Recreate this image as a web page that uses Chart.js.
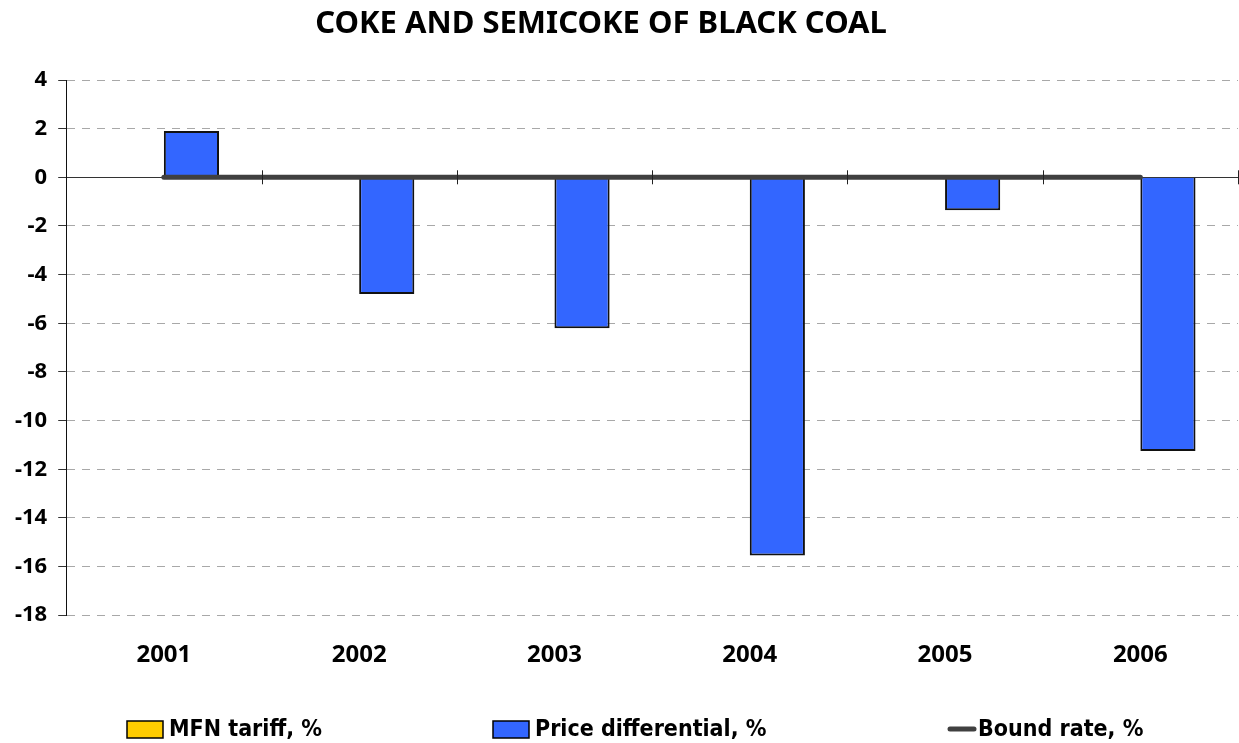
<!DOCTYPE html>
<html>
<head>
<meta charset="utf-8">
<script src="https://cdn.jsdelivr.net/npm/chart.js@4"></script>
<style>
  html, body { margin: 0; padding: 0; background: #fff; }
  #wrap { width: 1239px; height: 743px; }
</style>
</head>
<body>
<div id="wrap"><canvas id="coalChart" width="1239" height="743"></canvas></div>
<script>
// data
const years = ['2001', '2002', '2003', '2004', '2005', '2006'];
const mfnTariff = [0, 0, 0, 0, 0, 0];
const priceDiff = [1.9, -4.8, -6.2, -15.55, -1.35, -11.25];
const boundRate = [0, 0, 0, 0, 0, 0];
const yTicks = [4, 2, 0, -2, -4, -6, -8, -10, -12, -14, -16, -18];
const chartTitle = 'COKE AND SEMICOKE OF BLACK COAL';

const mainFont = "'Noto Sans', 'Open Sans', sans-serif";
const narrowFont = "'Liberation Sans Narrow', 'DejaVu Sans Condensed', sans-serif";

// title sits a bit left of the canvas centre in the original
const topTitle = {
    id: 'topTitle',
    afterDraw(chart) {
        const ctx = chart.ctx;
        ctx.save();
        ctx.font = 'bold 31px ' + mainFont;
        ctx.fillStyle = '#000';
        ctx.textAlign = 'center';
        ctx.textBaseline = 'middle';
        ctx.fillText(chartTitle, 601, 24);
        ctx.restore();
    }
};

// legend laid out like the original: three items spread across the bottom
const bottomLegend = {
    id: 'bottomLegend',
    afterDraw(chart) {
        const ctx = chart.ctx;
        const starts = [127, 493, 947];
        const order = ['MFN tariff, %', 'Price differential, %', 'Bound rate, %'];
        const y = 729;
        ctx.save();
        ctx.font = 'bold 23px ' + narrowFont;
        ctx.textBaseline = 'middle';
        order.forEach((name, i) => {
            const ds = chart.data.datasets.find(d => d.label === name);
            const x = starts[i];
            if (ds.type === 'line') {
                ctx.strokeStyle = ds.borderColor;
                ctx.lineWidth = 5;
                ctx.lineCap = 'round';
                ctx.beginPath();
                ctx.moveTo(x + 3, y);
                ctx.lineTo(x + 27, y);
                ctx.stroke();
                ctx.fillStyle = '#000';
                ctx.fillText(name, x + 31, y + 1);
            } else {
                ctx.fillStyle = ds.backgroundColor;
                ctx.fillRect(x, y - 8, 36, 17);
                ctx.strokeStyle = '#000';
                ctx.lineWidth = 1.5;
                ctx.strokeRect(x, y - 8, 36, 17);
                ctx.fillStyle = '#000';
                ctx.fillText(name, x + 42, y + 1);
            }
        });
        ctx.restore();
    }
};

// small category tick marks crossing the zero line
const zeroTicks = {
    id: 'zeroTicks',
    afterDraw(chart) {
        const xs = chart.scales.x, ys = chart.scales.y;
        const y0 = ys.getPixelForValue(0);
        const half = (xs.getPixelForValue(1) - xs.getPixelForValue(0)) / 2;
        const ctx = chart.ctx;
        ctx.save();
        ctx.strokeStyle = '#222';
        ctx.lineWidth = 1;
        for (let i = 0; i < years.length; i++) {
            const x = Math.round(xs.getPixelForValue(i) + half) + 0.5;
            ctx.beginPath();
            ctx.moveTo(x, y0 - 7);
            ctx.lineTo(x, y0 + 7);
            ctx.stroke();
        }
        ctx.restore();
    }
};

const ctx = document.getElementById('coalChart').getContext('2d');
new Chart(ctx, {
    data: {
        labels: years,
        datasets: [
            {
                type: 'line',
                label: 'Bound rate, %',
                data: boundRate,
                borderColor: '#404040',
                borderWidth: 5,
                pointRadius: 0,
                borderCapStyle: 'round',
                order: 0
            },
            {
                type: 'bar',
                label: 'MFN tariff, %',
                data: mfnTariff,
                backgroundColor: '#FFCC00',
                borderColor: '#000',
                borderWidth: 0,
                categoryPercentage: 0.565,
                barPercentage: 1,
                order: 1
            },
            {
                type: 'bar',
                label: 'Price differential, %',
                data: priceDiff,
                backgroundColor: '#3366FF',
                borderColor: '#111',
                borderWidth: 2,
                categoryPercentage: 0.565,
                barPercentage: 1,
                order: 1
            }
        ]
    },
    options: {
        responsive: false,
        animation: false,
        layout: { padding: { left: 4, right: 1, top: 80, bottom: 47 } },
        plugins: {
            legend: { display: false },
            tooltip: { enabled: false },
            title: { display: false }
        },
        scales: {
            x: {
                offset: true,
                grid: { display: false, drawTicks: false },
                border: { display: false },
                ticks: {
                    color: '#000',
                    padding: 26,
                    font: { family: mainFont, size: 24, weight: 'bold' }
                }
            },
            y: {
                min: -18,
                max: 4,
                afterBuildTicks: (scale) => {
                    scale.ticks = yTicks.map(v => ({ value: v }));
                },
                border: {
                    display: true,
                    color: '#111',
                    width: 1,
                    dash: (c) => (c.tick && c.tick.value === 0 ? [] : [8, 7])
                },
                grid: {
                    color: (c) => (c.tick && c.tick.value === 0 ? '#333' : '#a8a8a8'),
                    lineWidth: 1,
                    tickLength: 8,
                    tickColor: '#333',
                    tickBorderDash: []
                },
                ticks: {
                    color: '#000',
                    padding: 11,
                    font: { family: mainFont, size: 22, weight: 'bold' }
                }
            }
        }
    },
    plugins: [zeroTicks, bottomLegend, topTitle]
});
</script>
</body>
</html>
